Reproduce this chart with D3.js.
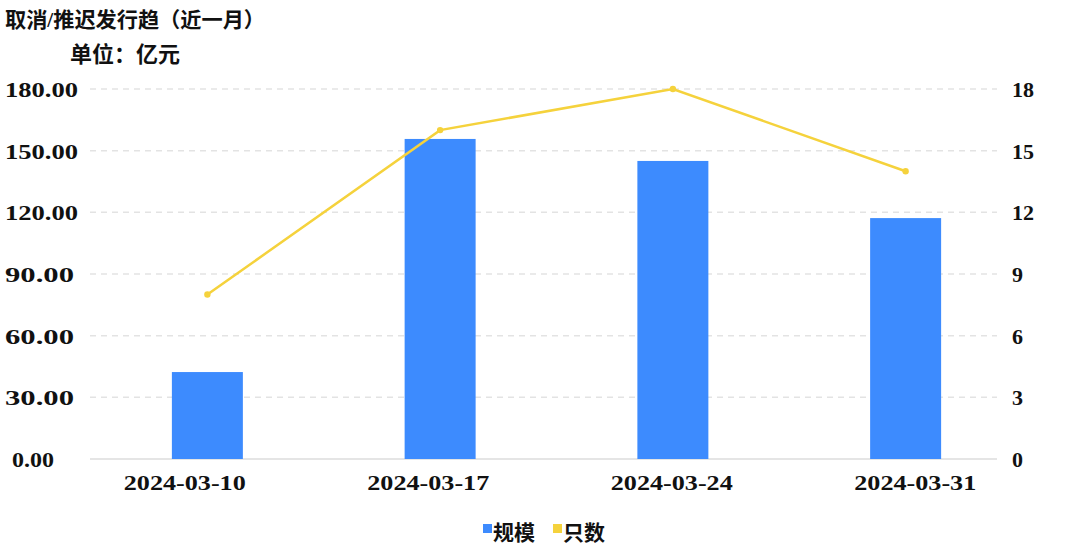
<!DOCTYPE html>
<html><head><meta charset="utf-8">
<script src="https://cdn.jsdelivr.net/npm/d3@7"></script>
<style>
html,body{margin:0;padding:0;background:#fff;}
svg{display:block;}
text{font-family:"Liberation Serif","Noto Sans CJK SC",serif;font-weight:bold;fill:#111;}
</style></head>
<body>
<svg id="chart" width="1073" height="558"></svg>
<script>
const categories = ["2024-03-10","2024-03-17","2024-03-24","2024-03-31"];
const scaleValues = [42.3, 155.7, 145.0, 117.2];   // 规模 (亿元)
const countValues = [8, 16, 18, 14];               // 只数
const leftTicks = [0, 30, 60, 90, 120, 150, 180];
const rightTicks = [0, 3, 6, 9, 12, 15, 18];
const titleText = "取消/推迟发行趋（近一月）";
const unitText = "单位：亿元";
const legendNames = ["规模", "只数"];

const blue = "#3d8bfe", yellow = "#f5d23c";
const svg = d3.select("#chart");
const plotLeft = 90, plotRight = 997, plotTop = 89, plotBottom = 459;

const x = d3.scaleBand().domain(categories).range([91, 1022]).paddingInner(0.695).paddingOuter(0.3475);
const xLabel = d3.scaleBand().domain(categories).range([63, 1037]);
const yL = d3.scaleLinear().domain([0, 180]).range([plotBottom, plotTop]);
const yR = d3.scaleLinear().domain([0, 18]).range([plotBottom, plotTop]);

// grid
svg.append("g").selectAll("line").data(leftTicks).join("line")
  .attr("x1", plotLeft).attr("x2", plotRight)
  .attr("y1", d => yL(d)).attr("y2", d => yL(d))
  .attr("stroke", d => d === 0 ? "#dcdcdc" : "#e3e3e3")
  .attr("stroke-width", 1.5)
  .attr("stroke-dasharray", d => d === 0 ? null : "6,5");

// left labels
svg.append("g").selectAll("text").data(leftTicks).join("text")
  .attr("x", d => d === 0 ? 12 : 5).attr("y", d => yL(d) + 8)
  .attr("text-anchor", "start")
  .style("font-size", "22px")
  .attr("textLength", d => d === 0 ? 42 : (d >= 100 ? 73 : 69))
  .attr("lengthAdjust", "spacingAndGlyphs")
  .text(d => d3.format(".2f")(d));

// right labels
svg.append("g").selectAll("text").data(rightTicks).join("text")
  .attr("x", 1012).attr("y", d => yR(d) + 8)
  .style("font-size", "22px")
  .text(d => d);

// bars
svg.append("g").selectAll("rect").data(categories).join("rect")
  .attr("x", d => x(d)).attr("width", x.bandwidth())
  .attr("y", (d, i) => yL(scaleValues[i]))
  .attr("height", (d, i) => yL(0) - yL(scaleValues[i]))
  .attr("fill", blue);

// line
const line = d3.line().x((d, i) => x(categories[i]) + x.bandwidth() / 2).y(d => yR(d));
svg.append("path").datum(countValues).attr("d", line)
  .attr("fill", "none").attr("stroke", yellow).attr("stroke-width", 2.5);
svg.append("g").selectAll("circle").data(countValues).join("circle")
  .attr("cx", (d, i) => x(categories[i]) + x.bandwidth() / 2)
  .attr("cy", d => yR(d)).attr("r", 3.2).attr("fill", yellow);

// x labels
svg.append("g").selectAll("text").data(categories).join("text")
  .attr("x", d => xLabel(d) + xLabel.bandwidth() / 2).attr("y", 490)
  .attr("text-anchor", "middle")
  .style("font-size", "22px")
  .attr("textLength", 122).attr("lengthAdjust", "spacingAndGlyphs")
  .text(d => d);

// title
svg.append("text").attr("x", 5).attr("y", 27).style("font-size", "21px")
  .attr("textLength", 260).attr("lengthAdjust", "spacingAndGlyphs").text(titleText);
svg.append("text").attr("x", 70).attr("y", 62).style("font-size", "22px")
  .attr("textLength", 110).attr("lengthAdjust", "spacingAndGlyphs").text(unitText);

// legend
const legendX = [483, 553];
const legendColors = [blue, yellow];
const lg = svg.append("g");
lg.selectAll("rect").data(legendNames).join("rect")
  .attr("x", (d, i) => legendX[i]).attr("y", 524).attr("width", 9).attr("height", 9)
  .attr("fill", (d, i) => legendColors[i]);
lg.selectAll("text").data(legendNames).join("text")
  .attr("x", (d, i) => legendX[i] + 10).attr("y", 540)
  .style("font-size", "21px").text(d => d);
</script>
</body></html>
